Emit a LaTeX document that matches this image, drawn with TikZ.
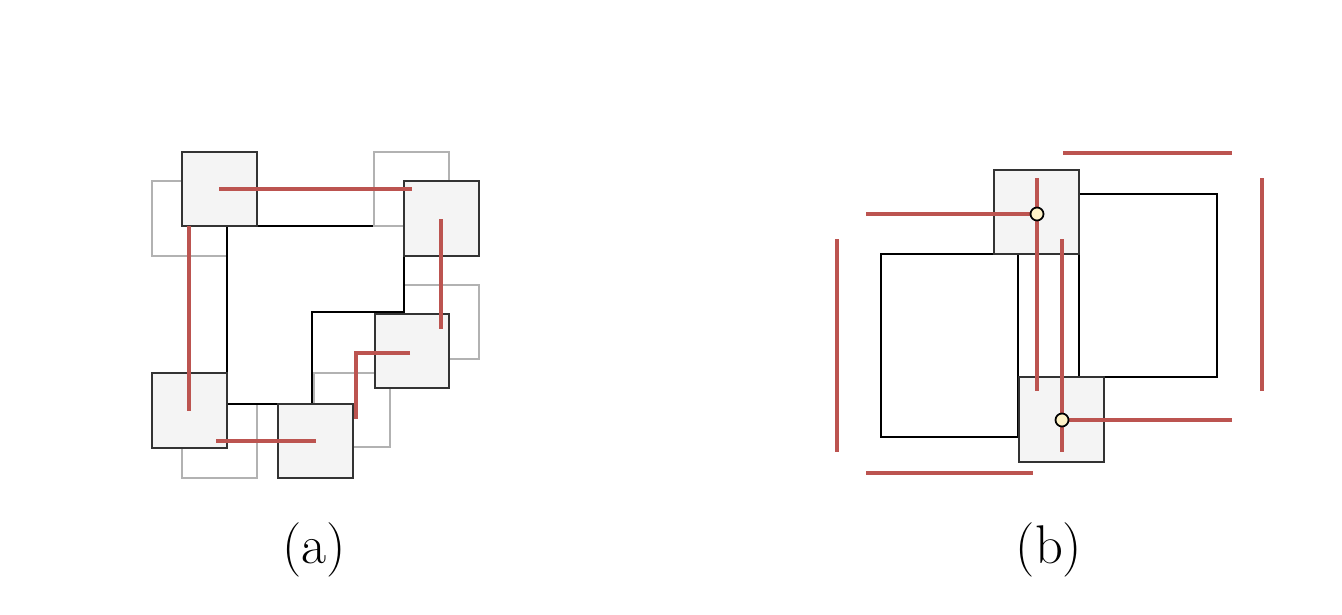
\documentclass[tikz,border=0pt]{standalone}
\usepackage{xcolor}
\usepackage{tikz}
\definecolor{linkred}{RGB}{188,84,80}
\definecolor{tilegray}{RGB}{244,244,244}
\definecolor{jointyellow}{RGB}{255,243,200}

\begin{document}
\begin{tikzpicture}[x=0.01cm, y=-0.01cm,
    ghost/.style={draw=black!30, line width=0.75pt},
    tile/.style={fill=tilegray, draw=black!80, line width=0.8pt},
    wall/.style={draw=black, line width=0.75pt},
    link/.style={draw=linkred, line width=1.4pt},
    joint/.style={circle, fill=jointyellow, draw=black, line width=0.5pt, inner sep=0pt, minimum size=0.13cm},
    caption/.style={font=\fontsize{15.5}{18}\selectfont}]
    \useasboundingbox (0,0) rectangle (1342,615);
    % (a) Old positions
    \draw[ghost] (152,181) rectangle (227,256);
    \draw[ghost] (404,285) rectangle (479,359);
    \draw[ghost] (314,373) rectangle (390,447);
    \draw[ghost] (182,404) rectangle (257,478);
    % (a) Outline
    \draw[wall] (227,226) -- (404,226) -- (404,312) -- (312,312) -- (312,404) -- (227,404) -- cycle;
    \draw[ghost] (374,152) rectangle (449,226);
    % (a) New positions
    \draw[tile] (182,152) rectangle (257,226);
    \draw[tile] (404,181) rectangle (479,256);
    \draw[tile] (375,314) rectangle (449,388);
    \draw[tile] (278,404) rectangle (353,478);
    \draw[tile] (152,373) rectangle (227,448);
    % (a) Links
    \draw[link] (219,189) -- (412,189);
    \draw[link] (189,226) -- (189,411);
    \draw[link] (441,219) -- (441,329);
    \draw[link] (216,441) -- (316,441);
    \draw[link] (410,353) -- (356,353) -- (356,419);
    % (b) Blocks
    \draw[wall] (881,254) rectangle (1018,437);
    \draw[wall] (1079,194) rectangle (1217,377);
    \draw[tile] (994,170) rectangle (1079,254);
    \draw[tile] (1019,377) rectangle (1104,462);
    % (b) Links
    \coordinate (ju) at (1037,214);
    \coordinate (jl) at (1062,420);
    \draw[link] (1063,153) -- (1232,153);
    \draw[link] (1262,178) -- (1262,391);
    \draw[link] (837,239) -- (837,452);
    \draw[link] (866,473) -- (1033,473);
    \draw[link] (866,214) -- (ju);
    \draw[link] (1037,178) -- (1037,391);
    \draw[link] (1062,239) -- (1062,452);
    \draw[link] (jl) -- (1232,420);
    % (b) Joints
    \node[joint] (ju-dot) at (ju) {};
    \node[joint] (jl-dot) at (jl) {};
    % Captions
    \node[caption] (cap-a) at (314,550) {(a)};
    \node[caption] (cap-b) at (1049,550) {(b)};
\end{tikzpicture}
\end{document}
